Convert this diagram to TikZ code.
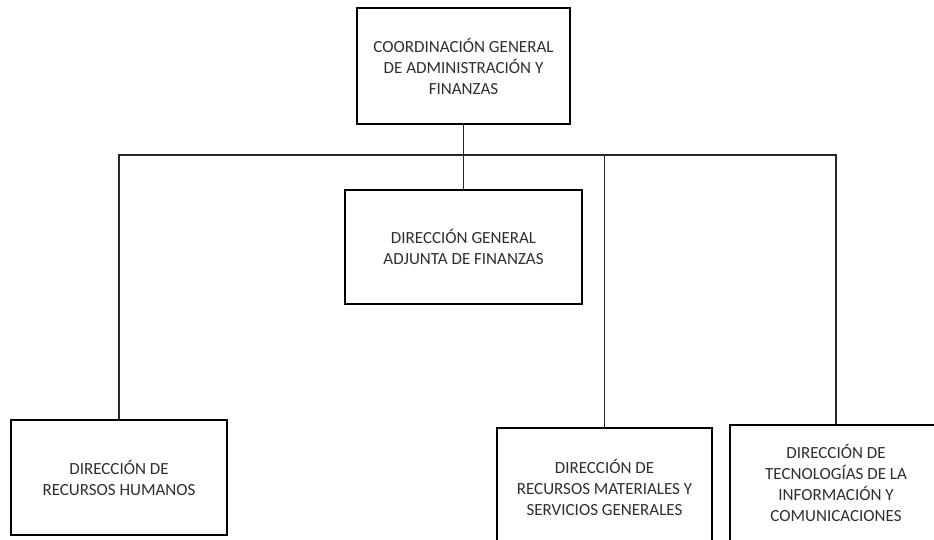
\documentclass[tikz,border=0pt]{standalone}
\usepackage{fontspec}
\setmainfont{Carlito}
\definecolor{txtgray}{HTML}{2E2E2E}
\begin{document}
\begin{tikzpicture}[
 x=1pt,
 y=-1pt,
 unit/.style={draw=black,line width=2.8pt,rectangle,inner sep=0pt,
  align=center,text=txtgray,font=\fontsize{17}{21}\selectfont},
 link/.style={draw=black!85,line width=1.4pt}
]
\useasboundingbox (0,0) rectangle (934,539);
\clip (0,0) rectangle (934,539);
\node[unit,minimum width=213,minimum height=116] (cgaf) at (463.5,66)
 {COORDINACIÓN GENERAL\\DE ADMINISTRACIÓN Y\\FINANZAS};
\node[unit,minimum width=237,minimum height=114] (dgaf) at (463.5,247)
 {DIRECCIÓN GENERAL\\ADJUNTA DE FINANZAS};
\node[unit,minimum width=216,minimum height=115] (drh) at (119,477.5)
 {DIRECCIÓN DE\\RECURSOS HUMANOS};
\node[unit,minimum width=215,minimum height=118] (drm) at (604.5,487)
 {DIRECCIÓN DE\\RECURSOS MATERIALES Y\\SERVICIOS GENERALES};
\node[unit,minimum width=212,minimum height=116] (dtic) at (836,483)
 {DIRECCIÓN DE\\TECNOLOGÍAS DE LA\\INFORMACIÓN Y\\COMUNICACIONES};
\coordinate (bus) at (463.5,155);
\draw[link] (cgaf.south) -- (bus);
\draw[link] (bus) -- (dgaf.north);
\draw[link] (bus) -| (drh.north);
\draw[link] (bus) -| (drm.north);
\draw[link] (bus) -| (dtic.north);
\end{tikzpicture}
\end{document}
